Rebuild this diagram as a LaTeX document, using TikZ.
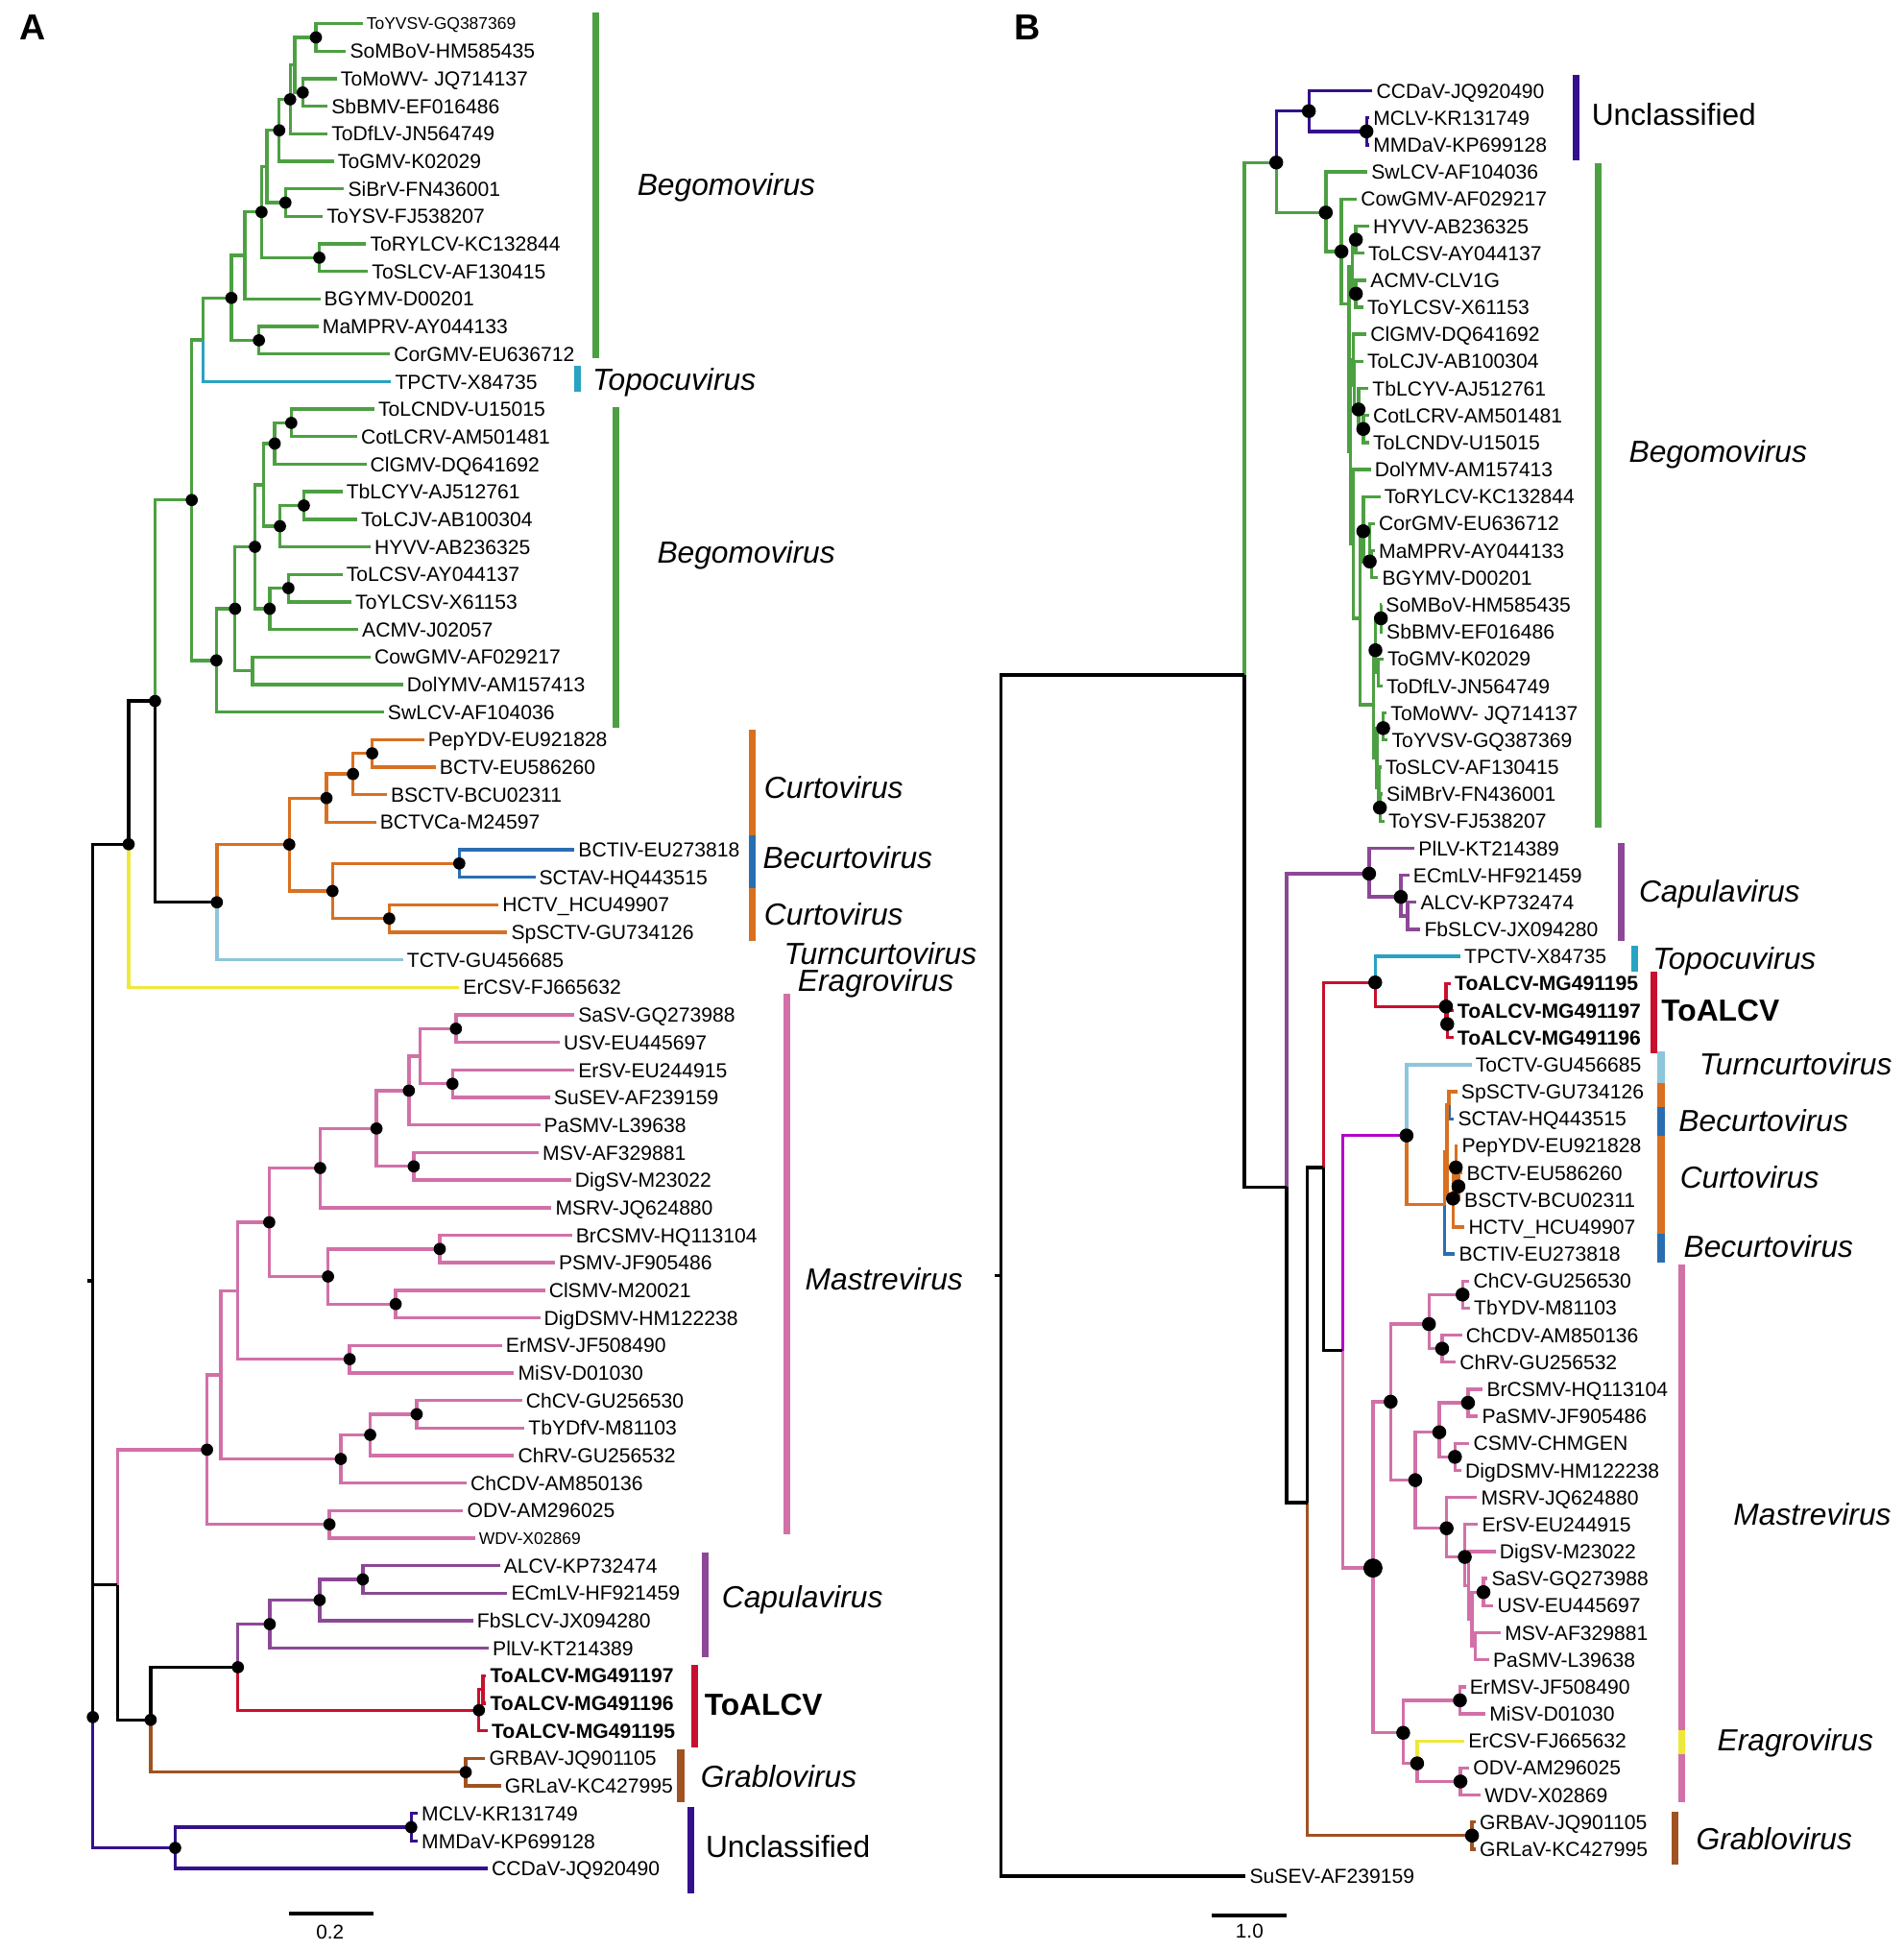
\documentclass[tikz,border=0pt]{standalone}
\usepackage{fontspec}
\setmainfont{Liberation Sans}
\usepackage{tikz}

\definecolor{bego}{RGB}{77,160,66}
\definecolor{topo}{RGB}{41,163,194}
\definecolor{curto}{RGB}{217,112,32}
\definecolor{becurto}{RGB}{42,110,178}
\definecolor{turnc}{RGB}{141,198,219}
\definecolor{eragro}{RGB}{238,232,58}
\definecolor{mastre}{RGB}{210,112,168}
\definecolor{capula}{RGB}{140,72,150}
\definecolor{toalcv}{RGB}{200,16,46}
\definecolor{grablo}{RGB}{160,82,34}
\definecolor{uncl}{RGB}{52,16,140}
\definecolor{mixed}{RGB}{180,0,200}

\tikzset{
  br/.style={line width=2.6pt, line join=miter},
  bar/.style={line width=5.5pt},
  lf/.style={anchor=west, inner xsep=3pt, inner ysep=0pt, font=\fontsize{16.3}{18}\selectfont, text height=11.7pt, text depth=0pt},
  lfs/.style={lf, font=\fontsize{13.5}{15}\selectfont, text height=9.7pt},
  lfb/.style={lf, font=\bfseries\fontsize{16.3}{18}\selectfont},
  clade/.style={anchor=west, inner sep=0pt, font=\itshape\fontsize{24.5}{28}\selectfont, text height=17.5pt, text depth=0pt},
  cladeup/.style={clade, font=\fontsize{24.5}{28}\selectfont},
  cladebf/.style={clade, font=\bfseries\fontsize{24.5}{28}\selectfont},
  panel/.style={font=\bfseries\fontsize{29}{32}\selectfont, inner sep=0pt},
  scalelbl/.style={font=\fontsize{16}{18}\selectfont, inner sep=0pt}
}

\begin{document}
\begin{tikzpicture}[x=1pt,y=-1pt]
    \fill[white] (0,0) rectangle (1530,1568);

    % ---------------- panel A ----------------
    \node[panel] (pA) at (26,22) {A};
    \begin{scope}[x=1pt,y=-22.13pt,yshift=3.13pt]
    \node[lfs] (a1) at (291.4,1) {ToYVSV-GQ387369};
    \node[lfs] (a56) at (381.7,56) {WDV-X02869};
    \foreach \k/\px/\lbl in {2/278.1/SoMBoV-HM585435, 3/270.7/ToMoWV- JQ714137, 4/263.3/SbBMV-EF016486,
        5/263.3/ToDfLV-JN564749, 6/268.4/ToGMV-K02029, 7/276.6/SiBrV-FN436001, 8/259.5/ToYSV-FJ538207,
        9/294.3/ToRYLCV-KC132844, 10/295.8/ToSLCV-AF130415, 11/257.4/BGYMV-D00201, 12/256.0/MaMPRV-AY044133,
        13/313.5/CorGMV-EU636712, 14/314.4/TPCTV-X84735, 15/300.9/ToLCNDV-U15015, 16/287.0/CotLCRV-AM501481,
        17/294.4/ClGMV-DQ641692, 18/275.2/TbLCYV-AJ512761, 19/287.0/ToLCJV-AB100304, 20/297.9/HYVV-AB236325,
        21/275.2/ToLCSV-AY044137, 22/282.5/ToYLCSV-X61153, 23/287.9/ACMV-J02057, 24/297.9/CowGMV-AF029217,
        25/323.9/DolYMV-AM157413, 26/308.5/SwLCV-AF104036, 27/340.8/PepYDV-EU921828, 28/350.2/BCTV-EU586260,
        29/310.9/BSCTV-BCU02311, 30/302.2/BCTVCa-M24597, 31/461.7/BCTIV-EU273818, 32/430.2/SCTAV-HQ443515,
        33/400.6/HCTV\_HCU49907, 34/407.7/SpSCTV-GU734126, 35/323.9/TCTV-GU456685, 36/369.1/ErCSV-FJ665632,
        37/461.6/SaSV-GQ273988, 38/449.8/USV-EU445697, 39/461.6/ErSV-EU244915, 40/442.0/SuSEV-AF239159,
        41/434.1/PaSMV-L39638, 42/432.9/MSV-AF329881, 43/458.9/DigSV-M23022, 44/443.2/MSRV-JQ624880,
        45/459.7/BrCSMV-HQ113104, 46/445.9/PSMV-JF905486, 47/438.0/ClSMV-M20021, 48/434.1/DigDSMV-HM122238,
        49/403.4/ErMSV-JF508490, 50/413.2/MiSV-D01030, 51/419.5/ChCV-GU256530, 52/421.5/TbYDfV-M81103,
        53/413.2/ChRV-GU256532, 54/375.0/ChCDV-AM850136, 55/372.3/ODV-AM296025, 57/401.8/ALCV-KP732474,
        58/407.7/ECmLV-HF921459, 59/380.2/FbSLCV-JX094280, 60/392.8/PlLV-KT214389, 64/390.0/GRBAV-JQ901105,
        65/402.6/GRLaV-KC427995, 66/335.7/MCLV-KR131749, 67/335.7/MMDaV-KP699128, 68/392.0/CCDaV-JQ920490}
        \node[lf] (a\k) at (\px,\k) {\lbl};
    \foreach \k/\px/\lbl in {61/390.8/ToALCV-MG491197, 62/390.8/ToALCV-MG491196, 63/392.0/ToALCV-MG491195}
        \node[lfb] (a\k) at (\px,\k) {\lbl};

    % inner nodes
    \coordinate (p1) at (253.9,1.5);
    \coordinate (p2) at (243.3,3.5);
    \coordinate (p3) at (236.8,2.5);
    \coordinate (p4) at (233.2,3.75);
    \coordinate (p5) at (224.4,4.875);
    \coordinate (p6) at (229.4,7.5);
    \coordinate (p7) at (214.6,6.1875);
    \coordinate (p8) at (210.2,7.84);
    \coordinate (p9) at (256.6,9.5);
    \coordinate (p10) at (196.9,9.42);
    \coordinate (p11) at (208.1,12.5);
    \coordinate (p12) at (186.0,10.96);
    \coordinate (p13) at (163.0,12.48);
    \coordinate (p14) at (234.1,15.5);
    \coordinate (p15) at (220.8,16.25);
    \coordinate (p16) at (244.2,18.5);
    \coordinate (p17) at (225.0,19.25);
    \coordinate (p18) at (211.7,17.75);
    \coordinate (p19) at (231.8,21.5);
    \coordinate (p20) at (216.7,22.25);
    \coordinate (p21) at (204.9,20);
    \coordinate (p22) at (202.8,24.5);
    \coordinate (p23) at (188.9,22.25);
    \coordinate (p24) at (173.9,24.125);
    \coordinate (p25) at (154.1,18.3);
    \coordinate (p26) at (299.1,27.5);
    \coordinate (p27) at (283.7,28.25);
    \coordinate (p28) at (262.4,29.125);
    \coordinate (p29) at (369.1,31.5);
    \coordinate (p30) at (312.8,33.5);
    \coordinate (p31) at (267.2,32.5);
    \coordinate (p32) at (232.5,30.81);
    \coordinate (p33) at (174.3,32.91);
    \coordinate (p34) at (124.6,25.6);
    \coordinate (p35) at (103.4,30.8);
    \coordinate (p36) at (366.4,37.5);
    \coordinate (p37) at (363.6,39.5);
    \coordinate (p38) at (337.6,38.5);
    \coordinate (p39) at (328.6,39.75);
    \coordinate (p40) at (332.5,42.5);
    \coordinate (p41) at (302.6,41.125);
    \coordinate (p42) at (257.3,42.56);
    \coordinate (p43) at (353.4,45.5);
    \coordinate (p44) at (318.0,47.5);
    \coordinate (p45) at (263.6,46.5);
    \coordinate (p46) at (216.4,44.53);
    \coordinate (p47) at (281.0,49.5);
    \coordinate (p48) at (191.2,47.02);
    \coordinate (p49) at (334.9,51.5);
    \coordinate (p50) at (297.5,52.25);
    \coordinate (p51) at (273.9,53.125);
    \coordinate (p52) at (177.4,50.07);
    \coordinate (p53) at (264.8,55.5);
    \coordinate (p54) at (166.4,52.79);
    \coordinate (p55) at (291.6,57.5);
    \coordinate (p56) at (256.9,58.25);
    \coordinate (p57) at (216.8,59.125);
    \coordinate (p58) at (388.0,61.5);
    \coordinate (p59) at (384.9,62.25);
    \coordinate (p60) at (191.2,60.69);
    \coordinate (p61) at (374.3,64.5);
    \coordinate (p62) at (121.1,62.6);
    \coordinate (p63) at (94.3,57.7);
    \coordinate (p64) at (330.5,66.5);
    \coordinate (p65) at (140.8,67.25);
    \coordinate (p66) at (74.6,62.5);
    \coordinate (p67) at (74.6,46.65);
    \coordinate (p0) at (70.5,46.65);

    % branches
    \draw[br,bego] (p1) |- (a1) (p1) |- (a2);
    \draw[br,bego] (p2) |- (a3) (p2) |- (a4);
    \draw[br,bego] (p3) |- (p1) (p3) |- (p2);
    \draw[br,bego] (p4) |- (p3) (p4) |- (a5);
    \draw[br,bego] (p5) |- (p4) (p5) |- (a6);
    \draw[br,bego] (p6) |- (a7) (p6) |- (a8);
    \draw[br,bego] (p7) |- (p5) (p7) |- (p6);
    \draw[br,bego] (p8) |- (p7) (p8) |- (p9);
    \draw[br,bego] (p9) |- (a9) (p9) |- (a10);
    \draw[br,bego] (p10) |- (p8) (p10) |- (a11);
    \draw[br,bego] (p11) |- (a12) (p11) |- (a13);
    \draw[br,bego] (p12) |- (p10) (p12) |- (p11);
    \draw[br,bego] (p13) |- (p12);
    \draw[br,topo] (p13) |- (a14);
    \draw[br,bego] (p14) |- (a15) (p14) |- (a16);
    \draw[br,bego] (p15) |- (p14) (p15) |- (a17);
    \draw[br,bego] (p16) |- (a18) (p16) |- (a19);
    \draw[br,bego] (p17) |- (p16) (p17) |- (a20);
    \draw[br,bego] (p18) |- (p15) (p18) |- (p17);
    \draw[br,bego] (p19) |- (a21) (p19) |- (a22);
    \draw[br,bego] (p20) |- (p19) (p20) |- (a23);
    \draw[br,bego] (p21) |- (p18) (p21) |- (p20);
    \draw[br,bego] (p22) |- (a24) (p22) |- (a25);
    \draw[br,bego] (p23) |- (p21) (p23) |- (p22);
    \draw[br,bego] (p24) |- (p23) (p24) |- (a26);
    \draw[br,bego] (p25) |- (p13) (p25) |- (p24);
    \draw[br,curto] (p26) |- (a27) (p26) |- (a28);
    \draw[br,curto] (p27) |- (p26) (p27) |- (a29);
    \draw[br,curto] (p28) |- (p27) (p28) |- (a30);
    \draw[br,becurto] (p29) |- (a31) (p29) |- (a32);
    \draw[br,curto] (p30) |- (a33) (p30) |- (a34);
    \draw[br,curto] (p31) |- (p29) (p31) |- (p30);
    \draw[br,curto] (p32) |- (p28) (p32) |- (p31);
    \draw[br,curto] (p33) |- (p32);
    \draw[br,turnc] (p33) |- (a35);
    \draw[br,bego] (p34) |- (p25);
    \draw[br] (p34) |- (p33);
    \draw[br] (p35) |- (p34);
    \draw[br,eragro] (p35) |- (a36);
    \draw[br,mastre] (p36) |- (a37) (p36) |- (a38);
    \draw[br,mastre] (p37) |- (a39) (p37) |- (a40);
    \draw[br,mastre] (p38) |- (p36) (p38) |- (p37);
    \draw[br,mastre] (p39) |- (p38) (p39) |- (a41);
    \draw[br,mastre] (p40) |- (a42) (p40) |- (a43);
    \draw[br,mastre] (p41) |- (p39) (p41) |- (p40);
    \draw[br,mastre] (p42) |- (p41) (p42) |- (a44);
    \draw[br,mastre] (p43) |- (a45) (p43) |- (a46);
    \draw[br,mastre] (p44) |- (a47) (p44) |- (a48);
    \draw[br,mastre] (p45) |- (p43) (p45) |- (p44);
    \draw[br,mastre] (p46) |- (p42) (p46) |- (p45);
    \draw[br,mastre] (p47) |- (a49) (p47) |- (a50);
    \draw[br,mastre] (p48) |- (p46) (p48) |- (p47);
    \draw[br,mastre] (p49) |- (a51) (p49) |- (a52);
    \draw[br,mastre] (p50) |- (p49) (p50) |- (a53);
    \draw[br,mastre] (p51) |- (p50) (p51) |- (a54);
    \draw[br,mastre] (p52) |- (p48) (p52) |- (p51);
    \draw[br,mastre] (p53) |- (a55) (p53) |- (a56);
    \draw[br,mastre] (p54) |- (p52) (p54) |- (p53);
    \draw[br,capula] (p55) |- (a57) (p55) |- (a58);
    \draw[br,capula] (p56) |- (p55) (p56) |- (a59);
    \draw[br,capula] (p57) |- (p56) (p57) |- (a60);
    \draw[br,toalcv] (p58) |- (a61) (p58) |- (a62);
    \draw[br,toalcv] (p59) |- (p58) (p59) |- (a63);
    \draw[br,capula] (p60) |- (p57);
    \draw[br,toalcv] (p60) |- (p59);
    \draw[br,grablo] (p61) |- (a64) (p61) |- (a65);
    \draw[br] (p62) |- (p60);
    \draw[br,grablo] (p62) |- (p61);
    \draw[br,mastre] (p63) |- (p54);
    \draw[br] (p63) |- (p62);
    \draw[br,uncl] (p64) |- (a66) (p64) |- (a67);
    \draw[br,uncl] (p65) |- (p64) (p65) |- (a68);
    \draw[br] (p66) |- (p63);
    \draw[br,uncl] (p66) |- (p65);
    \draw[br] (p67) |- (p35) (p67) |- (p66) (p0) -- (p67);

    \foreach \d in {p1,p2,p4,p5,p6,p8,p9,p11,p12,p14,p15,p16,p17,p19,p20,p21,p23,p24,p25,
        p26,p27,p28,p29,p30,p31,p32,p33,p34,p35,p36,p37,p39,p40,p41,p42,p43,p44,p45,p46,p47,
        p49,p50,p51,p53,p54,p55,p56,p57,p59,p60,p61,p62,p64,p65,p66}
        \fill (\d) circle (4.9pt);
    \end{scope}

    % clade bars A
    \draw[bar,bego] (479,10) -- (479,288);
    \draw[bar,topo] (464.2,294) -- (464.2,315);
    \draw[bar,bego] (495.2,327) -- (495.2,585);
    \draw[bar,curto] (604.6,586.4) -- (604.6,671.3);
    \draw[bar,becurto] (604.6,671.3) -- (604.6,713.7);
    \draw[bar,curto] (604.6,713.7) -- (604.6,756.2);
    \draw[bar,mastre] (632.1,798.6) -- (632.1,1233.3);
    \draw[bar,capula] (566.8,1247.5) -- (566.8,1331.8);
    \draw[bar,toalcv] (558.1,1338.2) -- (558.1,1404.3);
    \draw[bar,grablo] (547.1,1405.6) -- (547.1,1448);
    \draw[bar,uncl] (555.3,1452.4) -- (555.3,1521.3);

    \node[clade] (gA1) at (512,148) {Begomovirus};
    \node[clade] (gA2) at (476,305) {Topocuvirus};
    \node[clade] (gA3) at (528,444) {Begomovirus};
    \node[clade] (gA4) at (614,633) {Curtovirus};
    \node[clade] (gA5) at (613,689) {Becurtovirus};
    \node[clade] (gA6) at (614,735) {Curtovirus};
    \node[clade] (gA7) at (630,766) {Turncurtovirus};
    \node[clade] (gA8) at (641,788) {Eragrovirus};
    \node[clade] (gA9) at (647,1028) {Mastrevirus};
    \node[clade] (gA10) at (580,1283) {Capulavirus};
    \node[cladebf] (gA11) at (566,1370) {ToALCV};
    \node[clade] (gA12) at (563,1428) {Grablovirus};
    \node[cladeup] (gA13) at (567,1484) {Unclassified};

    \draw[line width=3pt] (232.5,1538) -- (300.2,1538);
    \node[scalelbl] (sA) at (265.2,1553) {0.2};

    % ---------------- panel B ----------------
    \node[panel] (pB) at (826,22) {B};
    \begin{scope}[x=1pt,y=-21.74pt,yshift=-51.26pt]
    \foreach \k/\px/\lbl in {1/1103.0/CCDaV-JQ920490, 2/1100.5/MCLV-KR131749, 3/1100.5/MMDaV-KP699128,
        4/1099.0/SwLCV-AF104036, 5/1090.5/CowGMV-AF029217, 6/1100.4/HYVV-AB236325, 7/1096.5/ToLCSV-AY044137,
        8/1098.3/ACMV-CLV1G, 9/1095.7/ToYLCSV-X61153, 10/1098.3/ClGMV-DQ641692, 11/1095.7/ToLCJV-AB100304,
        12/1099.8/TbLCYV-AJ512761, 13/1100.4/CotLCRV-AM501481, 14/1100.4/ToLCNDV-U15015,
        15/1101.6/DolYMV-AM157413, 16/1109.4/ToRYLCV-KC132844, 17/1105.0/CorGMV-EU636712,
        18/1105.0/MaMPRV-AY044133, 19/1107.6/BGYMV-D00201, 20/1110.6/SoMBoV-HM585435, 21/1111.2/SbBMV-EF016486,
        22/1111.9/ToGMV-K02029, 23/1111.2/ToDfLV-JN564749, 24/1114.5/ToMoWV- JQ714137,
        25/1115.3/ToYVSV-GQ387369, 26/1110.1/ToSLCV-AF130415, 27/1111.2/SiMBrV-FN436001,
        28/1112.7/ToYSV-FJ538207, 29/1136.9/PlLV-KT214389, 30/1132.6/ECmLV-HF921459, 31/1138.5/ALCV-KP732474,
        32/1141.6/FbSLCV-JX094280, 33/1173.7/TPCTV-X84735, 37/1182.7/ToCTV-GU456685,
        38/1171.2/SpSCTV-GU734126, 39/1168.6/SCTAV-HQ443515, 40/1171.7/PepYDV-EU921828,
        41/1175.5/BCTV-EU586260, 42/1173.7/BSCTV-BCU02311, 43/1177.1/HCTV\_HCU49907,
        44/1169.4/BCTIV-EU273818, 45/1180.9/ChCV-GU256530, 46/1181.4/TbYDV-M81103, 47/1175.0/ChCDV-AM850136,
        48/1169.9/ChRV-GU256532, 49/1191.7/BrCSMV-HQ113104, 50/1187.9/PaSMV-JF905486, 51/1180.9/CSMV-CHMGEN,
        52/1174.5/DigDSMV-HM122238, 53/1187.1/MSRV-JQ624880, 54/1187.9/ErSV-EU244915, 55/1202.0/DigSV-M23022,
        56/1195.6/SaSV-GQ273988, 57/1200.2/USV-EU445697, 58/1206.2/MSV-AF329881, 59/1196.8/PaSMV-L39638,
        60/1178.1/ErMSV-JF508490, 61/1193.9/MiSV-D01030, 62/1177.0/ErCSV-FJ665632, 63/1180.8/ODV-AM296025,
        64/1190.1/WDV-X02869, 65/1186.0/GRBAV-JQ901105, 66/1186.0/GRLaV-KC427995, 67/1001.2/SuSEV-AF239159}
        \node[lf] (b\k) at (\px,\k) {\lbl};
    \foreach \k/\px/\lbl in {34/1166.0/ToALCV-MG491195, 35/1168.1/ToALCV-MG491197, 36/1168.1/ToALCV-MG491196}
        \node[lfb] (b\k) at (\px,\k) {\lbl};

    % inner nodes
    \coordinate (q1) at (1098.2,2.5);
    \coordinate (q2) at (1051.9,1.75);
    \coordinate (q3) at (1089.7,6.5);
    \coordinate (q4) at (1089.7,8.5);
    \coordinate (q5) at (1087.0,7.5);
    \coordinate (q6) at (1095.6,13.5);
    \coordinate (q7) at (1091.8,12.78);
    \coordinate (q8) at (1088.5,11.89);
    \coordinate (q9) at (1087.5,10.95);
    \coordinate (q10) at (1102.5,18.5);
    \coordinate (q11) at (1100.8,18.4);
    \coordinate (q12) at (1095.6,17.28);
    \coordinate (q13) at (1107.5,22.5);
    \coordinate (q14) at (1109.8,20.5);
    \coordinate (q15) at (1105.4,21.68);
    \coordinate (q16) at (1111.6,24.56);
    \coordinate (q17) at (1109.0,27.5);
    \coordinate (q18) at (1108.0,26.75);
    \coordinate (q19) at (1106.5,25.65);
    \coordinate (q20) at (1104.0,23.7);
    \coordinate (q21) at (1093.0,20.5);
    \coordinate (q22) at (1087.5,17.75);
    \coordinate (q23) at (1085.5,14.35);
    \coordinate (q24) at (1084.1,8.88);
    \coordinate (q25) at (1078.1,6.94);
    \coordinate (q26) at (1065.5,5.5);
    \coordinate (q27) at (1025.7,3.65);
    \coordinate (q28) at (1131.2,31.5);
    \coordinate (q29) at (1125.8,30.8);
    \coordinate (q30) at (1100.3,29.94);
    \coordinate (q31) at (1163.1,35.5);
    \coordinate (q32) at (1162.1,34.85);
    \coordinate (q33) at (1105.2,33.96);
    \coordinate (q34) at (1164.5,38.5);
    \coordinate (q35) at (1172.1,41.5);
    \coordinate (q36) at (1170.0,40.8);
    \coordinate (q37) at (1167.7,41.95);
    \coordinate (q38) at (1162.8,40.23);
    \coordinate (q39) at (1161.0,42.18);
    \coordinate (q40) at (1130.4,39.62);
    \coordinate (q41) at (1175.4,45.5);
    \coordinate (q42) at (1159.0,47.5);
    \coordinate (q43) at (1148.4,46.59);
    \coordinate (q44) at (1179.8,49.5);
    \coordinate (q45) at (1169.3,51.5);
    \coordinate (q46) at (1156.7,50.59);
    \coordinate (q47) at (1185.5,58.5);
    \coordinate (q48) at (1192.2,56.5);
    \coordinate (q49) at (1183.0,57.5);
    \coordinate (q50) at (1180.0,56.25);
    \coordinate (q51) at (1177.2,55.2);
    \coordinate (q52) at (1162.6,54.14);
    \coordinate (q53) at (1137.4,52.36);
    \coordinate (q54) at (1117.6,49.46);
    \coordinate (q55) at (1173.3,60.5);
    \coordinate (q56) at (1173.7,63.5);
    \coordinate (q57) at (1138.9,62.83);
    \coordinate (q58) at (1127.7,61.7);
    \coordinate (q59) at (1103.4,55.61);
    \coordinate (q60) at (1079.0,47.57);
    \coordinate (q61) at (1063.6,40.8);
    \coordinate (q62) at (1183.0,65.5);
    \coordinate (q63) at (1050.7,53.19);
    \coordinate (q64) at (1034.0,41.53);
    \coordinate (q65) at (1000.0,22.6);
    \coordinate (q66) at (804.2,44.8);
    \coordinate (q0) at (799.5,44.8);

    % branches
    \draw[br,uncl] (q1) |- (b2) (q1) |- (b3);
    \draw[br,uncl] (q2) |- (b1) (q2) |- (q1);
    \draw[br,bego] (q3) |- (b6) (q3) |- (b7);
    \draw[br,bego] (q4) |- (b8) (q4) |- (b9);
    \draw[br,bego] (q5) |- (q3) (q5) |- (q4);
    \draw[br,bego] (q6) |- (b13) (q6) |- (b14);
    \draw[br,bego] (q7) |- (b12) (q7) |- (q6);
    \draw[br,bego] (q8) |- (b11) (q8) |- (q7);
    \draw[br,bego] (q9) |- (b10) (q9) |- (q8);
    \draw[br,bego] (q10) |- (b18) (q10) |- (b19);
    \draw[br,bego] (q11) |- (b17) (q11) |- (q10);
    \draw[br,bego] (q12) |- (b16) (q12) |- (q11);
    \draw[br,bego] (q13) |- (b22) (q13) |- (b23);
    \draw[br,bego] (q14) |- (b20) (q14) |- (b21);
    \draw[br,bego] (q15) |- (q14) (q15) |- (q13);
    \draw[br,bego] (q16) |- (b24) (q16) |- (b25);
    \draw[br,bego] (q17) |- (b27) (q17) |- (b28);
    \draw[br,bego] (q18) |- (b26) (q18) |- (q17);
    \draw[br,bego] (q19) |- (q16) (q19) |- (q18);
    \draw[br,bego] (q20) |- (q15) (q20) |- (q19);
    \draw[br,bego] (q21) |- (q12) (q21) |- (q20);
    \draw[br,bego] (q22) |- (b15) (q22) |- (q21);
    \draw[br,bego] (q23) |- (q9) (q23) |- (q22);
    \draw[br,bego] (q24) |- (q5) (q24) |- (q23);
    \draw[br,bego] (q25) |- (b5) (q25) |- (q24);
    \draw[br,bego] (q26) |- (b4) (q26) |- (q25);
    \draw[br,uncl] (q27) |- (q2);
    \draw[br,bego] (q27) |- (q26);
    \draw[br,capula] (q28) |- (b31) (q28) |- (b32);
    \draw[br,capula] (q29) |- (b30) (q29) |- (q28);
    \draw[br,capula] (q30) |- (b29) (q30) |- (q29);
    \draw[br,toalcv] (q31) |- (b35) (q31) |- (b36);
    \draw[br,toalcv] (q32) |- (b34) (q32) |- (q31);
    \draw[br,topo] (q33) |- (b33);
    \draw[br,toalcv] (q33) |- (q32);
    \draw[br,curto] (q34) |- (b38);
    \draw[br,becurto] (q34) |- (b39);
    \draw[br,curto] (q35) |- (b41) (q35) |- (b42);
    \draw[br,curto] (q36) |- (b40) (q36) |- (q35);
    \draw[br,curto] (q37) |- (q36) (q37) |- (b43);
    \draw[br,curto] (q38) |- (q34) (q38) |- (q37);
    \draw[br,curto] (q39) |- (q38);
    \draw[br,becurto] (q39) |- (b44);
    \draw[br,turnc] (q40) |- (b37);
    \draw[br,curto] (q40) |- (q39);
    \draw[br,mastre] (q41) |- (b45) (q41) |- (b46);
    \draw[br,mastre] (q42) |- (b47) (q42) |- (b48);
    \draw[br,mastre] (q43) |- (q41) (q43) |- (q42);
    \draw[br,mastre] (q44) |- (b49) (q44) |- (b50);
    \draw[br,mastre] (q45) |- (b51) (q45) |- (b52);
    \draw[br,mastre] (q46) |- (q44) (q46) |- (q45);
    \draw[br,mastre] (q47) |- (b58) (q47) |- (b59);
    \draw[br,mastre] (q48) |- (b56) (q48) |- (b57);
    \draw[br,mastre] (q49) |- (q48) (q49) |- (q47);
    \draw[br,mastre] (q50) |- (b55) (q50) |- (q49);
    \draw[br,mastre] (q51) |- (b54) (q51) |- (q50);
    \draw[br,mastre] (q52) |- (b53) (q52) |- (q51);
    \draw[br,mastre] (q53) |- (q46) (q53) |- (q52);
    \draw[br,mastre] (q54) |- (q43) (q54) |- (q53);
    \draw[br,mastre] (q55) |- (b60) (q55) |- (b61);
    \draw[br,mastre] (q56) |- (b63) (q56) |- (b64);
    \draw[br,eragro] (q57) |- (b62);
    \draw[br,mastre] (q57) |- (q56);
    \draw[br,mastre] (q58) |- (q55) (q58) |- (q57);
    \draw[br,mastre] (q59) |- (q54) (q59) |- (q58);
    \draw[br,mixed] (q60) |- (q40);
    \draw[br,mastre] (q60) |- (q59);
    \draw[br,toalcv] (q61) |- (q33);
    \draw[br] (q61) |- (q60);
    \draw[br,grablo] (q62) |- (b65) (q62) |- (b66);
    \draw[br] (q63) |- (q61);
    \draw[br,grablo] (q63) |- (q62);
    \draw[br,capula] (q64) |- (q30);
    \draw[br] (q64) |- (q63);
    \draw[br,bego] (q65) |- (q27);
    \draw[br] (q65) |- (q64);
    \draw[br] (q66) |- (q65) (q66) |- (b67) (q0) -- (q66);

    \foreach \d in {q1,q2,q3,q4,q6,q7,q11,q12,q14,q15,q16,q17,q25,q26,q27,q29,q30,q31,q32,q33,
        q35,q36,q37,q40,q41,q42,q43,q44,q45,q46,q48,q51,q52,q53,q54,q55,q56,q57,q58,q62}
        \fill (\d) circle (5.6pt);
    \fill (q59) circle (7.7pt);
    \end{scope}

    % clade bars B
    \draw[bar,uncl] (1266.7,60.4) -- (1266.7,128.6);
    \draw[bar,bego] (1284.7,131.2) -- (1284.7,664.9);
    \draw[bar,capula] (1302.8,677.7) -- (1302.8,756.2);
    \draw[bar,topo] (1313.8,760.1) -- (1313.8,780.6);
    \draw[bar,toalcv] (1329.2,780.6) -- (1329.2,846.7);
    \draw[bar,turnc] (1334.9,845.2) -- (1334.9,870.6);
    \draw[bar,curto] (1334.9,870.6) -- (1334.9,889.9);
    \draw[bar,becurto] (1334.9,889.9) -- (1334.9,912.6);
    \draw[bar,curto] (1334.9,912.6) -- (1334.9,991.5);
    \draw[bar,becurto] (1334.9,991.5) -- (1334.9,1014.7);
    \draw[bar,mastre] (1351.6,1016) -- (1351.6,1390.2);
    \draw[bar,eragro] (1351.6,1390.2) -- (1351.6,1409.5);
    \draw[bar,mastre] (1351.6,1409.5) -- (1351.6,1448.1);
    \draw[bar,grablo] (1346.4,1455.8) -- (1346.4,1498.2);

    \node[cladeup] (gB1) at (1279,92) {Unclassified};
    \node[clade] (gB2) at (1309,363) {Begomovirus};
    \node[clade] (gB3) at (1317,716) {Capulavirus};
    \node[clade] (gB4) at (1328,770) {Topocuvirus};
    \node[cladebf] (gB5) at (1335,812) {ToALCV};
    \node[clade] (gB6) at (1365.5,855) {Turncurtovirus};
    \node[clade] (gB7) at (1349,901) {Becurtovirus};
    \node[clade] (gB8) at (1350,946) {Curtovirus};
    \node[clade] (gB9) at (1353,1002) {Becurtovirus};
    \node[clade] (gB10) at (1393,1217) {Mastrevirus};
    \node[clade] (gB11) at (1380,1398) {Eragrovirus};
    \node[clade] (gB12) at (1363,1478) {Grablovirus};

    \draw[line width=3pt] (973.6,1539.3) -- (1034.2,1539.3);
    \node[scalelbl] (sB) at (1004.2,1552.2) {1.0};
\end{tikzpicture}
\end{document}
